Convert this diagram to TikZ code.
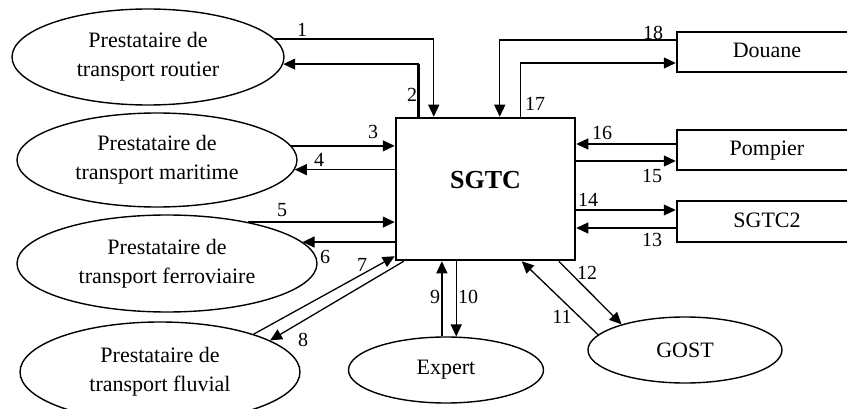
\documentclass[tikz,border=0pt]{standalone}
\usepackage{fontspec}
\setmainfont{Liberation Serif}
\usetikzlibrary{arrows.meta,shapes.geometric,calc}
\begin{document}
\begin{tikzpicture}[x=1pt,y=-1pt,
  ell/.style={draw,ellipse,line width=1.4pt,inner sep=0pt,align=center,font=\fontsize{22}{29}\selectfont},
  sbox/.style={draw,rectangle,line width=2.5pt,inner sep=0pt,text height=15pt,text depth=3pt,font=\fontsize{22}{26}\selectfont},
  flow/.style={line width=1.3pt,-{Triangle[length=12pt,width=11pt]}},
  heavy/.style={line width=2.7pt},
  num/.style={font=\fontsize{20}{20}\selectfont,inner sep=0pt}]
\useasboundingbox (0,0) rectangle (847,409);
\clip (0,0) rectangle (847,409);

% nodes
\node[ell,minimum width=272pt,minimum height=96pt] (r1) at (148,57) {Prestataire de\\transport routier};
\node[ell,minimum width=280pt,minimum height=94pt] (r2) at (157,160) {Prestataire de\\transport maritime};
\node[ell,minimum width=300pt,minimum height=97pt] (r3) at (167,263.5) {Prestataire de\\transport ferroviaire};
\node[ell,minimum width=280pt,minimum height=100pt] (r4) at (160,372) {Prestataire de\\transport fluvial};
\node[ell,minimum width=195pt,minimum height=66pt] (ex) at (446,370) {Expert};
\node[ell,minimum width=194pt,minimum height=66pt] (go) at (685,350) {GOST};

\node[sbox,minimum width=179pt,minimum height=142pt,text height=17pt,text depth=18pt,
      font=\fontsize{26}{30}\selectfont\bfseries] (sgtc) at (485.5,189) {SGTC};
\node[sbox,minimum width=180pt,minimum height=40pt] (dou) at (767,52) {Douane};
\node[sbox,minimum width=180pt,minimum height=40pt] (pom) at (767,150) {Pompier};
\node[sbox,minimum width=180pt,minimum height=41pt] (sg2) at (767,221.5) {SGTC2};

% helper coordinates on the SGTC box and right boxes
\coordinate (t1) at ($(sgtc.north west)+(39,0)$);
\coordinate (t2) at ($(sgtc.north west)+(24,0)$);
\coordinate (t18) at ($(sgtc.north west)+(105,0)$);
\coordinate (t17) at ($(sgtc.north west)+(126,0)$);
\coordinate (d18) at ($(dou.west)+(0,-12)$);
\coordinate (d17) at ($(dou.west)+(0,11)$);
\coordinate (p16) at ($(pom.west)+(0,-6)$);
\coordinate (p15) at ($(pom.west)+(0,11)$);
\coordinate (s14) at ($(sg2.west)+(0,-11.5)$);
\coordinate (s13) at ($(sg2.west)+(0,6.5)$);
\coordinate (b7) at ($(sgtc.south west)+(0,-5)$);
\coordinate (b8) at ($(sgtc.south west)+(9,0)$);
\coordinate (b11) at ($(sgtc.south west)+(127,0)$);
\coordinate (b12) at ($(sgtc.south west)+(164,0)$);

% connectors
\draw[flow] (r1.8) -| (t1);
\draw[heavy] (r1.8) -- (r1.8 -| t1);
\draw[flow] (t2) |- (r1.-3);
\draw[heavy] (t2) -- (t2 |- r1.-3);

\draw[flow] (r2.6) -- (r2.6 -| sgtc.west);
\draw[flow] (r2.-4 -| sgtc.west) -- (r2.-4);
\draw[flow] (r3.27) -- (r3.27 -| sgtc.west);
\draw[flow] (r3.9 -| sgtc.west) -- (r3.9);
\draw[flow] (r4.22) -- (b7);
\draw[flow] (b8) -- (r4.16);

\draw[flow] (ex.97) -- (ex.97 |- sgtc.south);
\draw[flow] (ex.73 |- sgtc.south) -- (ex.73);
\draw[flow] (go.170) -- (b11);
\draw[flow] (b12) -- (go.158);

\draw[flow] (s13) -- (s13 -| sgtc.east);
\draw[flow] (s14 -| sgtc.east) -- (s14);
\draw[flow] (p15 -| sgtc.east) -- (p15);
\draw[flow] (p16) -- (p16 -| sgtc.east);
\draw[flow] (t17) |- (d17);
\draw[flow] (d18) -| (t18);
\draw[heavy] (d18) -- (d18 -| t18);

% labels
\node[num] (n1) at (302,30) {1};
\node[num] (n2) at (412,95) {2};
\node[num] (n3) at (373,132) {3};
\node[num] (n4) at (319,160) {4};
\node[num] (n5) at (282,210) {5};
\node[num] (n6) at (325,257) {6};
\node[num] (n7) at (362,265) {7};
\node[num] (n8) at (303,340) {8};
\node[num] (n9) at (435,297) {9};
\node[num] (n10) at (468,297) {10};
\node[num] (n11) at (562,317) {11};
\node[num] (n12) at (587,273) {12};
\node[num] (n13) at (652,240) {13};
\node[num] (n14) at (588,200) {14};
\node[num] (n15) at (652,176) {15};
\node[num] (n16) at (602,133) {16};
\node[num] (n17) at (535,104) {17};
\node[num] (n18) at (653,33) {18};
\end{tikzpicture}
\end{document}
